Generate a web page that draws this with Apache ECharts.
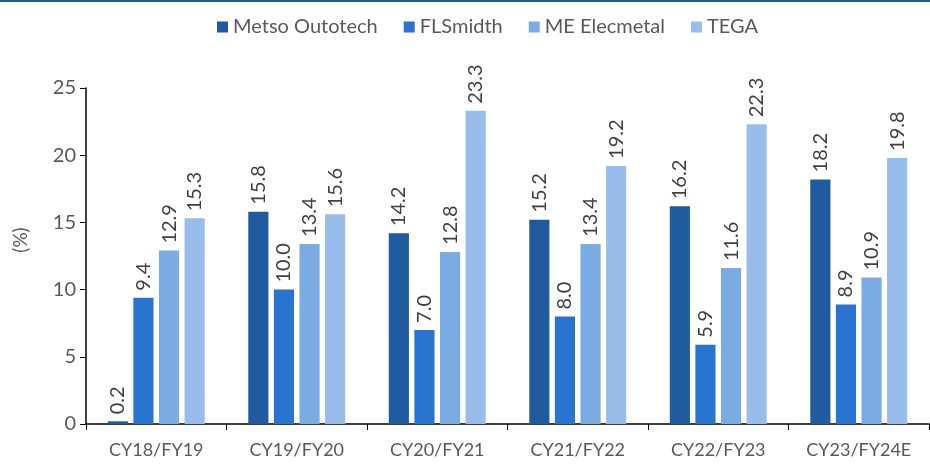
<!DOCTYPE html>
<html>
<head>
<meta charset="utf-8">
<script src="https://cdn.jsdelivr.net/npm/echarts@6/dist/echarts.min.js"></script>
<style>
  html, body { margin: 0; padding: 0; background: #fff; }
  #main { width: 930px; height: 464px; }
</style>
</head>
<body>
<div id="main"></div>
<script>
const categories = ['CY18/FY19', 'CY19/FY20', 'CY20/FY21', 'CY21/FY22', 'CY22/FY23', 'CY23/FY24E'];
const metso = [0.2, 15.8, 14.2, 15.2, 16.2, 18.2];
const flsmidth = [9.4, 10.0, 7.0, 8.0, 5.9, 8.9];
const elecmetal = [12.9, 13.4, 12.8, 13.4, 11.6, 10.9];
const tega = [15.3, 15.6, 23.3, 19.2, 22.3, 19.8];
const seriesNames = ['Metso Outotech', 'FLSmidth', 'ME Elecmetal', 'TEGA'];
const colors = ['#1F5B9E', '#2874D0', '#7AABE3', '#98BDEA'];

const font = 'Lato, "Open Sans", sans-serif';

let myChart = echarts.init(document.getElementById('main'));

function makeSeries(name, data, i) {
  return {
    name: name,
    type: 'bar',
    data: data,
    barGap: '27%',
    barCategoryGap: '31%',
    itemStyle: { color: colors[i] },
    label: {
      show: true,
      position: 'top',
      rotate: 90,
      align: 'left',
      verticalAlign: 'middle',
      distance: 7,
      color: '#404040',
      fontSize: 20,
      fontFamily: font,
      formatter: p => p.value.toFixed(1)
    }
  };
}

myChart.setOption({
  animation: false,
  textStyle: { fontFamily: font },
  graphic: [{
    type: 'rect',
    shape: { x: 0, y: 0, width: 930, height: 2 },
    style: { fill: '#1F5B9E' }
  }],
  legend: {
    top: 12,
    left: 212,
    itemWidth: 11,
    itemHeight: 11,
    itemGap: 26,
    icon: 'rect',
    textStyle: { color: '#595959', fontSize: 20, fontFamily: font },
    data: seriesNames
  },
  grid: { left: 86, right: 1, top: 88, bottom: 40, containLabel: false },
  xAxis: {
    type: 'category',
    data: categories,
    axisLine: { lineStyle: { color: '#000', width: 1.5 } },
    axisTick: { show: true, length: 6, lineStyle: { color: '#000' } },
    axisLabel: { color: '#595959', fontSize: 18, fontFamily: font, margin: 17, interval: 0 }
  },
  yAxis: {
    type: 'value',
    min: 0,
    max: 25,
    interval: 5,
    name: '(%)',
    nameLocation: 'middle',
    nameGap: 56,
    nameRotate: 90,
    nameTextStyle: { color: '#595959', fontSize: 19, fontFamily: font, padding: [0, 0, 0, 32] },
    splitLine: { show: false },
    axisLine: { show: true, lineStyle: { color: '#000', width: 1.5 } },
    axisTick: { show: true, length: 6, lineStyle: { color: '#000' } },
    axisLabel: { color: '#595959', fontSize: 20, fontFamily: font, margin: 10 }
  },
  series: [
    makeSeries(seriesNames[0], metso, 0),
    makeSeries(seriesNames[1], flsmidth, 1),
    makeSeries(seriesNames[2], elecmetal, 2),
    makeSeries(seriesNames[3], tega, 3)
  ]
});
</script>
</body>
</html>
